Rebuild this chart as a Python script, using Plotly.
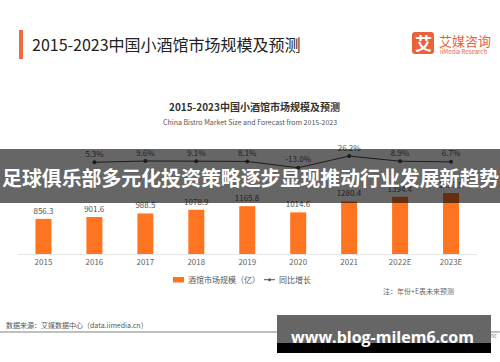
import plotly.graph_objects as go

# ---- data ----
years = ["2015", "2016", "2017", "2018", "2019", "2020", "2021", "2022E", "2023E"]
market_size = [856.3, 901.6, 988.5, 1078.9, 1165.8, 1014.6, 1280.4, 1394.4, 1487.8]
growth_years = ["2016", "2017", "2018", "2019", "2020", "2021", "2022E", "2023E"]
growth_pct = [5.3, 9.6, 9.1, 8.1, -13.0, 26.2, 8.9, 6.7]

W, H = 500, 362
CJK = "Noto Sans CJK SC, Noto Sans, sans-serif"
ORANGE = "#FF7420"


def px(x):
    return x / W


def py(y):
    return 1 - y / H


fig = go.Figure()

fig.add_trace(go.Bar(
    x=years, y=market_size,
    marker=dict(color=ORANGE, line=dict(width=0)),
    text=[f"{v:.1f}" for v in market_size],
    textposition="outside",
    constraintext="none",
    textfont=dict(size=8, color="#555555", family=CJK),
    cliponaxis=False,
    name="酒馆市场规模（亿）",
    showlegend=False,
))

fig.add_trace(go.Scatter(
    x=growth_years, y=growth_pct, yaxis="y2",
    mode="lines+markers+text",
    line=dict(color="#444444", width=1),
    marker=dict(color="#444444", size=4),
    text=[f"{v:.1f}%" for v in growth_pct],
    textposition="top center",
    textfont=dict(size=8, color="#555555", family=CJK),
    cliponaxis=False,
    name="同比增长",
    showlegend=False,
))

shapes = []
annotations = []

# header accent bar
shapes.append(dict(type="rect", xref="paper", yref="paper",
                   x0=px(19), x1=px(23), y0=py(59), y1=py(30),
                   fillcolor="#F26B3A", line=dict(width=0)))
annotations.append(dict(text="2015-2023中国小酒馆市场规模及预测", xref="paper", yref="paper",
                        x=px(30), y=py(44), xanchor="left", yanchor="middle", showarrow=False,
                        font=dict(size=16, color="#222222", family=CJK)))

# logo
x0, x1, y0, y1, r = 412, 434, 32, 54, 3
path = (f"M {px(x0 + r)} {py(y0)} L {px(x1 - r)} {py(y0)} Q {px(x1)} {py(y0)} {px(x1)} {py(y0 + r)} "
        f"L {px(x1)} {py(y1 - r)} Q {px(x1)} {py(y1)} {px(x1 - r)} {py(y1)} "
        f"L {px(x0 + r)} {py(y1)} Q {px(x0)} {py(y1)} {px(x0)} {py(y1 - r)} "
        f"L {px(x0)} {py(y0 + r)} Q {px(x0)} {py(y0)} {px(x0 + r)} {py(y0)} Z")
shapes.append(dict(type="path", xref="paper", yref="paper", path=path,
                   fillcolor="#E8623A", line=dict(width=0)))
annotations.append(dict(text="<b>艾</b>", xref="paper", yref="paper", x=px(423), y=py(43),
                        xanchor="center", yanchor="middle", showarrow=False,
                        font=dict(size=17, color="white", family=CJK)))
annotations.append(dict(text="艾媒咨询", xref="paper", yref="paper", x=px(437), y=py(41),
                        xanchor="left", yanchor="middle", showarrow=False,
                        font=dict(size=13, color="#E8623A", family=CJK)))
annotations.append(dict(text="iiMedia Research", xref="paper", yref="paper", x=px(438), y=py(51),
                        xanchor="left", yanchor="middle", showarrow=False,
                        font=dict(size=6, color="#E8623A", family=CJK)))

# inner titles
annotations.append(dict(text="<b>2015-2023中国小酒馆市场规模及预测</b>", xref="paper", yref="paper",
                        x=px(254), y=py(107), xanchor="center", yanchor="middle", showarrow=False,
                        font=dict(size=10, color="#333333", family=CJK)))
annotations.append(dict(text="China Bistro Market Size and Forecast from 2015-2023", xref="paper", yref="paper",
                        x=px(250), y=py(122), xanchor="center", yanchor="middle", showarrow=False,
                        font=dict(size=7, color="#555555", family=CJK)))

# custom legend
shapes.append(dict(type="rect", xref="paper", yref="paper",
                   x0=px(173), x1=px(184), y0=py(282.5), y1=py(277),
                   fillcolor=ORANGE, line=dict(width=0)))
annotations.append(dict(text="酒馆市场规模（亿）", xref="paper", yref="paper", x=px(186), y=py(279.7),
                        xanchor="left", yanchor="middle", showarrow=False,
                        font=dict(size=8, color="#555555", family=CJK)))
shapes.append(dict(type="line", xref="paper", yref="paper",
                   x0=px(264), x1=px(275), y0=py(279.7), y1=py(279.7),
                   line=dict(color="#555555", width=1)))
shapes.append(dict(type="circle", xref="paper", yref="paper",
                   x0=px(268), x1=px(271), y0=py(281.2), y1=py(278.2),
                   fillcolor="#555555", line=dict(width=0)))
annotations.append(dict(text="同比增长", xref="paper", yref="paper", x=px(277), y=py(279.7),
                        xanchor="left", yanchor="middle", showarrow=False,
                        font=dict(size=8, color="#555555", family=CJK)))

# note & source
annotations.append(dict(text="注：年份+E表未来预测", xref="paper", yref="paper", x=px(381), y=py(291),
                        xanchor="left", yanchor="middle", showarrow=False,
                        font=dict(size=7, color="#666666", family=CJK)))
annotations.append(dict(text="数据来源：艾媒数据中心（data.iimedia.cn）", xref="paper", yref="paper",
                        x=px(4), y=py(325), xanchor="left", yanchor="middle", showarrow=False,
                        font=dict(size=7, color="#555555", family=CJK)))
shapes.append(dict(type="line", xref="paper", yref="paper",
                   x0=0, x1=1, y0=py(332), y1=py(332),
                   line=dict(color="#AAAAAA", width=1.5)))
annotations.append(dict(text="Copyright © iiMedia Research Inc", xref="paper", yref="paper",
                        x=px(499), y=py(335), xanchor="right", yanchor="middle", showarrow=False,
                        font=dict(size=6, color="#888888", family=CJK)))

# overlay banner
shapes.append(dict(type="rect", xref="paper", yref="paper", layer="above",
                   x0=0, x1=1, y0=py(203), y1=py(149),
                   fillcolor="rgba(0,0,0,0.6)", line=dict(width=0)))
annotations.append(dict(text="<b>足球俱乐部多元化投资策略逐步显现推动行业发展新趋势</b>", xref="paper", yref="paper",
                        x=px(250), y=py(177), xanchor="center", yanchor="middle", showarrow=False,
                        font=dict(size=19.9, color="white", family=CJK)))

# watermark
annotations.append(dict(text=" ", xref="paper", yref="paper", x=px(384), y=py(334),
                        xanchor="center", yanchor="middle", showarrow=False,
                        width=214, height=38, bgcolor="#000000", borderpad=0, borderwidth=0,
                        font=dict(size=6)))
annotations.append(dict(text=" ", xref="paper", yref="paper", x=px(384), y=py(328.8),
                        xanchor="center", yanchor="middle", showarrow=False,
                        width=214, height=27.5, bgcolor="#666666", borderpad=0, borderwidth=0,
                        font=dict(size=6)))
annotations.append(dict(text="<b>www.blog-milem6.com</b>", xref="paper", yref="paper", x=px(382), y=py(337),
                        xanchor="center", yanchor="middle", showarrow=False,
                        font=dict(size=16, color="white", family="Open Sans, Noto Sans, sans-serif")))

fig.update_layout(
    width=W, height=H, autosize=False,
    margin=dict(l=0, r=0, t=0, b=0),
    paper_bgcolor="white", plot_bgcolor="white",
    bargap=0.686,
    showlegend=False,
    hovermode=False,
    xaxis=dict(domain=[px(18), px(477)], type="category",
               showline=True, linecolor="#E6E6E6", linewidth=1,
               showgrid=False, zeroline=False, ticks="",
               tickfont=dict(size=8, color="#666666", family=CJK)),
    yaxis=dict(domain=[py(254), py(140)], range=[0, 2780], visible=False,
               showgrid=False, zeroline=False),
    yaxis2=dict(domain=[py(254), py(140)], range=[-302, 80], overlaying="y",
                visible=False, showgrid=False, zeroline=False),
    shapes=shapes,
    annotations=annotations,
)

fig.write_html("out.html", config={"displayModeBar": False},
               post_script="document.body.style.margin='0px';document.body.style.overflow='hidden';")
